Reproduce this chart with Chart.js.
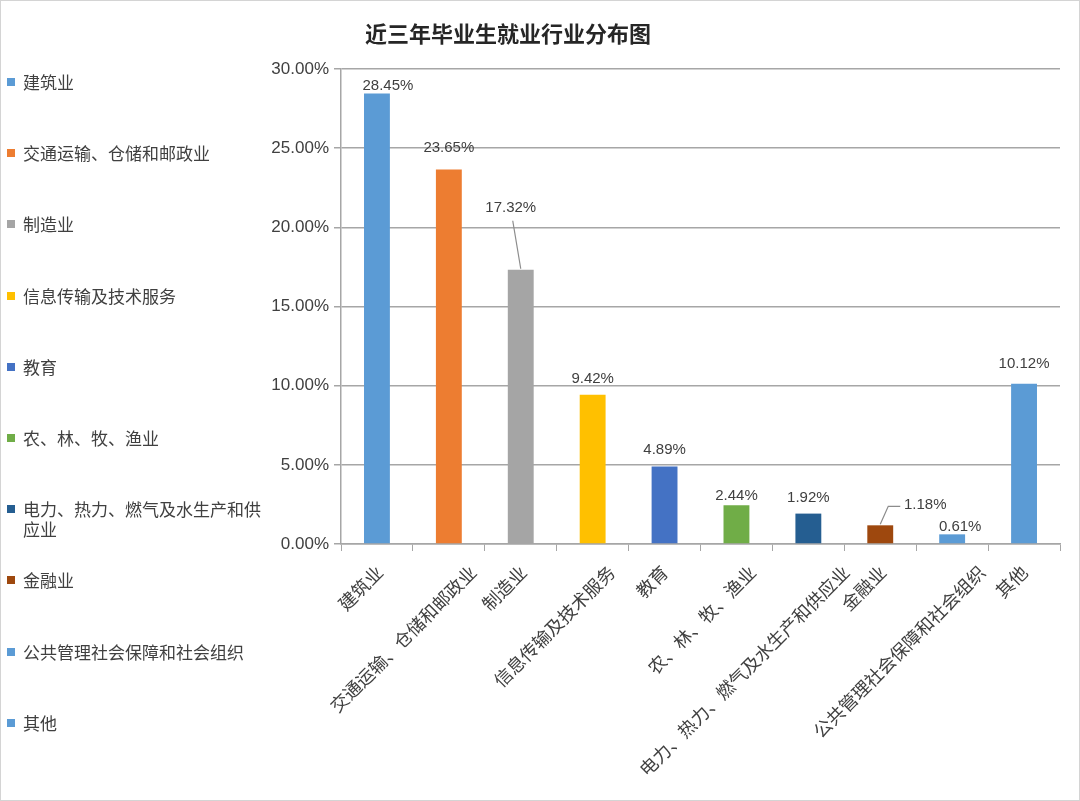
<!DOCTYPE html>
<html>
<head>
<meta charset="utf-8">
<script src="https://cdn.jsdelivr.net/npm/chart.js@4.4.1/dist/chart.umd.min.js"></script>
<style>
  html, body { margin: 0; padding: 0; background: #fff; }
  #wrap { position: relative; width: 1080px; height: 801px; box-sizing: border-box; border: 1px solid #d4d4d4; }
  #chart { position: absolute; left: 0; top: 0; }
  #title { position: absolute; left: 300px; width: 414px; top: 15px; text-align: center;
           font: bold 22px "Noto Sans CJK SC", sans-serif; color: #262626; }
  .item { position: absolute; left: 6px; width: 262px; font: 17px/20px "Noto Sans CJK SC", sans-serif; color: #404040; }
  .item i { position: absolute; left: 0; top: 6px; width: 8px; height: 8px; }
  .item span { display: block; margin-left: 16px; }
</style>
</head>
<body>
<div id="wrap">
  <canvas id="chart" width="1080" height="801"></canvas>
  <div id="title">近三年毕业生就业行业分布图</div>
  <div id="legend"></div>
</div>
<script>
// 行业分类及占比
const categories = ['建筑业', '交通运输、仓储和邮政业', '制造业', '信息传输及技术服务', '教育',
  '农、林、牧、渔业', '电力、热力、燃气及水生产和供应业', '金融业', '公共管理社会保障和社会组织', '其他'];
const shares = [28.45, 23.65, 17.32, 9.42, 4.89, 2.44, 1.92, 1.18, 0.61, 10.12];
const barColors = ['#5B9BD5', '#ED7D31', '#A5A5A5', '#FFC000', '#4472C4',
  '#70AD47', '#255E91', '#9E480E', '#5B9BD5', '#5B9BD5'];

// 数值标签的偏移 (相对柱顶)
const labelShift = [[11, -8], [0, -22], [-10, -62], [0, -16], [0, -17],
  [0, -10], [0, -16], [45, -20], [8, -7], [0, -20]];

// 图例
const legend = document.getElementById('legend');
categories.forEach((c, i) => {
  const d = document.createElement('div');
  d.className = 'item';
  d.style.top = (71 + i * 71.2) + 'px';
  d.innerHTML = `<i style="background:${barColors[i]}"></i><span>${c}</span>`;
  legend.appendChild(d);
});

const valueLabels = {
  id: 'valueLabels',
  afterDatasetsDraw(chart) {
    const ctx = chart.ctx;
    const bars = chart.getDatasetMeta(0).data;
    ctx.save();
    ctx.font = '15px "Liberation Sans", sans-serif';
    ctx.fillStyle = '#404040';
    ctx.textAlign = 'center';
    ctx.textBaseline = 'middle';
    bars.forEach((bar, i) => {
      ctx.fillText(shares[i].toFixed(2) + '%', bar.x + labelShift[i][0], bar.y + labelShift[i][1]);
    });
    // 引导线
    ctx.strokeStyle = '#8c8c8c';
    ctx.lineWidth = 1.2;
    let b = bars[2];
    ctx.beginPath();
    ctx.moveTo(b.x - 8, b.y - 49);
    ctx.lineTo(b.x, b.y - 1);
    ctx.stroke();
    b = bars[7];
    ctx.beginPath();
    ctx.moveTo(b.x, b.y - 1);
    ctx.lineTo(b.x + 8, b.y - 19);
    ctx.lineTo(b.x + 20, b.y - 19);
    ctx.stroke();
    ctx.restore();
  }
};

// x轴斜排标签 (Excel 式: 越长的标签越往右偏)
const slantLabels = {
  id: 'slantLabels',
  afterDraw(chart) {
    const ctx = chart.ctx;
    const xs = chart.scales.x;
    ctx.save();
    ctx.font = '18px "Noto Sans CJK SC", sans-serif';
    ctx.fillStyle = '#404040';
    ctx.textAlign = 'right';
    ctx.textBaseline = 'middle';
    categories.forEach((c, i) => {
      const x = xs.getPixelForValue(i) + 2.7 * (c.length - 2);
      const y = xs.top + 25;
      ctx.save();
      ctx.translate(x, y);
      ctx.rotate(-Math.PI / 4);
      ctx.fillText(c, 0, 0);
      ctx.restore();
    });
    ctx.restore();
  }
};

new Chart(document.getElementById('chart'), {
  type: 'bar',
  data: {
    labels: categories,
    datasets: [{
      data: shares,
      backgroundColor: barColors,
      barPercentage: 0.36,
      categoryPercentage: 1
    }]
  },
  options: {
    responsive: false,
    animation: false,
    layout: { padding: { left: 260, right: 21, top: 68, bottom: 0 } },
    plugins: { legend: { display: false }, tooltip: { enabled: false } },
    scales: {
      x: {
        afterFit(s) { s.height = 258; },
        grid: { drawOnChartArea: false, color: '#a6a6a6', tickLength: 7, offset: true },
        border: { color: '#a6a6a6', width: 1.5 },
        ticks: { display: false }
      },
      y: {
        min: 0, max: 30,
        afterFit(s) { s.width = 80; },
        grid: { color: '#a6a6a6', lineWidth: 1.5, tickLength: 7 },
        border: { color: '#a6a6a6', width: 1.5 },
        ticks: {
          stepSize: 5, padding: 5, color: '#404040',
          font: { family: '"Liberation Sans", sans-serif', size: 17 },
          callback: v => v.toFixed(2) + '%'
        }
      }
    }
  },
  plugins: [valueLabels, slantLabels]
});
</script>
</body>
</html>
